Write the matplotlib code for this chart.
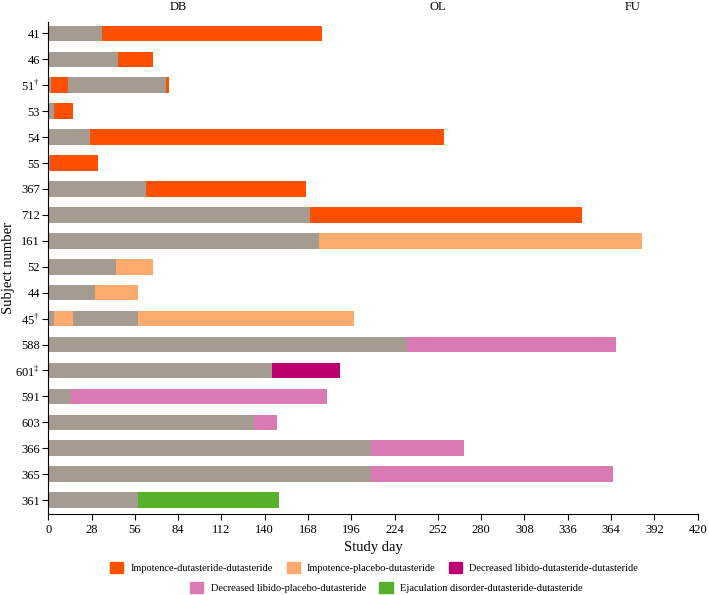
import numpy as np
import matplotlib
matplotlib.use("Agg")
import matplotlib.pyplot as plt
from matplotlib.patches import Patch

# -------------------------------
# Data (study days)
# -------------------------------
subjects = ["41", "46", r"51$^{\dagger}$", "53", "54", "55", "367", "712", "161",
            "52", "44", r"45$^{\dagger}$", "588", r"601$^{\ddagger}$", "591", "603",
            "366", "365", "361"]

# segment edges per subject (day)
bounds = [
    [0, 35, 177],
    [0, 45, 68],
    [0, 2, 13, 76, 78],
    [0, 4, 16],
    [0, 27, 256],
    [0, 1, 32],
    [0, 63, 167],
    [0, 169, 345],
    [0, 175, 384],
    [0, 44, 68],
    [0, 30, 58],
    [0, 4, 16, 58, 198],
    [0, 232, 367],
    [0, 145, 189],
    [0, 15, 180],
    [0, 133, 148],
    [0, 209, 269],
    [0, 209, 365],
    [0, 58, 149],
]

# event type of each segment: "-" = no event
kinds = [
    ["-", "IDD"], ["-", "IDD"], ["-", "IDD", "-", "IDD"], ["-", "IDD"], ["-", "IDD"],
    ["-", "IDD"], ["-", "IDD"], ["-", "IDD"], ["-", "IPD"], ["-", "IPD"], ["-", "IPD"],
    ["-", "IPD", "-", "IPD"], ["-", "LPD"], ["-", "LDD"], ["-", "LPD"], ["-", "LPD"],
    ["-", "LPD"], ["-", "LPD"], ["-", "EDD"],
]

legend_labels = {
    "IDD": "Impotence-dutasteride-dutasteride",
    "IPD": "Impotence-placebo-dutasteride",
    "LDD": "Decreased libido-dutasteride-dutasteride",
    "LPD": "Decreased libido-placebo-dutasteride",
    "EDD": "Ejaculation disorder-dutasteride-dutasteride",
}

colors = {
    "-": "#a69b91",
    "IDD": "#ff5000",
    "IPD": "#fdaa6e",
    "LDD": "#bc0070",
    "LPD": "#d97ab4",
    "EDD": "#56b02b",
}

phases = ["DB", "OL", "FU"]
phase_x = [84, 252, 378]

# -------------------------------
# Plot
# -------------------------------
plt.rcParams["font.family"] = ["Liberation Serif", "DejaVu Serif"]
plt.rcParams["mathtext.fontset"] = "custom"
plt.rcParams["mathtext.rm"] = "Liberation Serif"

fig = plt.figure(figsize=(7.09, 5.95), dpi=100)
ax = fig.add_axes([0.068, 0.136, 0.916, 0.827])

for i, (b, k) in enumerate(zip(bounds, kinds)):
    b = np.array(b)
    for j, code in enumerate(k):
        ax.barh(i, b[j + 1] - b[j], left=b[j], height=0.6,
                color=colors[code], linewidth=0)

ax.set_ylim(len(subjects) - 0.46, -0.44)
ax.set_yticks(range(len(subjects)))
ax.set_yticklabels(subjects, fontsize=9)
ax.set_xlim(0, 420)
ax.set_xticks(np.arange(0, 421, 28))
ax.tick_params(axis="x", labelsize=9, length=4, pad=3)
ax.tick_params(axis="y", length=4, pad=2)
ax.spines["top"].set_visible(False)
ax.spines["right"].set_visible(False)
ax.set_xlabel("Study day", fontsize=10.5, labelpad=4)
ax.set_ylabel("Subject number", fontsize=10.5)
ax.yaxis.set_label_coords(-0.051, 0.5)

for name, x in zip(phases, phase_x):
    ax.text(x, 1.03, name, transform=ax.get_xaxis_transform(),
            ha="center", va="center", fontsize=9)

handles = [Patch(color=colors[c], label=legend_labels[c]) for c in legend_labels]
leg_kw = dict(frameon=False, fontsize=7.5, handlelength=1.25, handleheight=1.25,
              columnspacing=1.3, handletextpad=0.7, loc="center")
fig.legend(handles=handles[:3], ncol=3, bbox_to_anchor=(0.528, 0.047), **leg_kw)
fig.legend(handles=handles[3:], ncol=2, bbox_to_anchor=(0.545, 0.012), **leg_kw)

fig.savefig("out.png", dpi=100)
